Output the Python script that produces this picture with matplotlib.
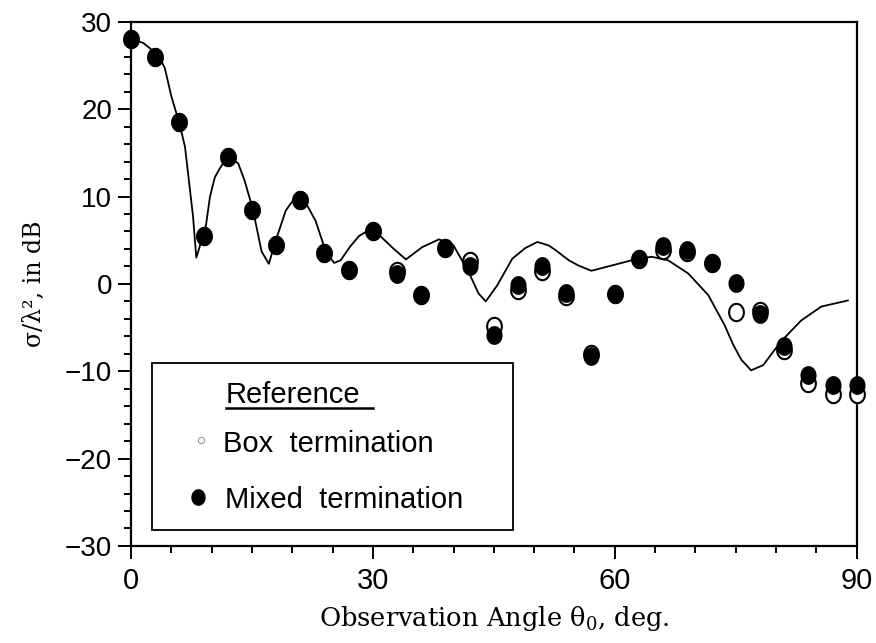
"""Backscatter vs. observation angle: computed curve and two measured terminations."""
import matplotlib
matplotlib.use("Agg")
import matplotlib.pyplot as plt
import numpy as np
from matplotlib.patches import Rectangle
from matplotlib.path import Path
from matplotlib.ticker import MultipleLocator

plt.rcParams["mathtext.fontset"] = "dejavuserif"

# measured angles (deg)
angles = [0, 3, 6, 9, 12, 15, 18, 21, 24, 27, 30, 33, 36, 39, 42, 45,
          48, 51, 54, 57, 60, 63, 66, 69, 72, 75, 78, 81, 84, 87, 90]

# sigma/lambda^2 in dB
mixed_db = [28.0, 26.0, 18.5, 5.5, 14.5, 8.5, 4.4, 9.6, 3.5, 1.6, 6.1, 1.1,
            -1.3, 4.1, 2.0, -5.8, -0.1, 2.0, -1.0, -8.3, -1.2, 2.9, 4.3,
            3.9, 2.4, 0.1, -3.5, -7.1, -10.4, -11.6, -11.6]
box_db = [28.0, 26.0, 18.5, 5.5, 14.5, 8.5, 4.4, 9.6, 3.5, 1.6, 6.1, 1.5,
          -1.3, 4.1, 2.6, -4.8, -0.7, 1.5, -1.4, -8.0, -1.2, 2.9, 3.9,
          3.6, 2.4, -3.2, -3.1, -7.6, -11.3, -12.6, -12.6]

# reference (computed) curve
ref_angle = [0.0, 1.5, 3.4, 4.2, 5.0, 6.0, 6.7, 7.7, 8.1, 8.5, 9.3, 9.8,
             10.4, 11.0, 12.0, 13.3, 14.1, 15.1, 16.2, 17.1, 18.0, 19.2,
             20.2, 21.2, 22.9, 24.2, 25.2, 26.0, 27.2, 28.3, 29.6, 31.0,
             32.6, 34.1, 36.1, 38.2, 40.0, 41.9, 43.1, 44.0, 45.4, 47.3,
             48.9, 50.4, 51.8, 52.6, 54.3, 55.5, 57.1, 59.6, 62.9, 64.6,
             66.6, 69.1, 70.3, 71.6, 73.6, 74.7, 75.7, 76.9, 78.4, 80.6,
             83.1, 85.6, 88.9]
ref_db = [28.0, 27.6, 26.2, 24.7, 21.5, 18.4, 15.7, 7.7, 3.0, 4.2, 6.7, 10.0,
          12.2, 13.2, 14.6, 13.8, 11.8, 8.6, 3.7, 2.3, 5.1, 8.4,
          9.7, 10.1, 7.2, 3.6, 2.4, 2.7, 4.3, 5.5, 6.2, 5.4,
          4.0, 2.8, 4.2, 5.1, 4.4, 1.3, -1.1, -2.0, -0.2, 2.9,
          4.1, 4.8, 4.4, 3.9, 2.7, 2.1, 1.5, 2.1, 2.9, 3.1,
          2.7, 1.2, 0.0, -1.3, -4.7, -7.0, -8.7, -9.9, -9.3, -6.6,
          -4.2, -2.6, -1.9]

x_major = [0, 30, 60, 90]
y_major = [-30, -20, -10, 0, 10, 20, 30]

# slightly tall dot, as on the original plotter output
t = np.linspace(0, 2 * np.pi, 60)
dot = Path(np.column_stack([np.cos(t), 1.18 * np.sin(t)]), closed=True)

fig = plt.figure(figsize=(8.76, 6.43), dpi=100)
ax = fig.add_axes([0.1495, 0.151, 0.8285, 0.815])

ax.plot(ref_angle, ref_db, color="black", lw=1.3, zorder=2)
ax.plot(angles, box_db, ls="none", marker=dot, ms=12.5, mfc="white",
        mec="black", mew=1.5, zorder=3, clip_on=False)
ax.plot(angles, mixed_db, ls="none", marker=dot, ms=12.5, mfc="black",
        mec="black", mew=1.0, zorder=4, clip_on=False)

ax.set_xlim(0, 90)
ax.set_ylim(-30, 30)
ax.set_xticks(x_major, labels=[str(v) for v in x_major],
              family=["Liberation Sans Narrow", "Liberation Sans"], fontsize=21)
ax.set_yticks(y_major, labels=[str(v).replace("-", "\u2212") for v in y_major],
              family=["Liberation Sans", "DejaVu Sans"], fontsize=20)
ax.xaxis.set_minor_locator(MultipleLocator(5))
ax.yaxis.set_minor_locator(MultipleLocator(2))
ax.tick_params(which="major", direction="out", length=9.5, width=1.4)
ax.tick_params(which="minor", direction="out", length=5, width=1.4)
ax.tick_params(axis="x", pad=6)
ax.tick_params(axis="y", pad=4)
for sp in ax.spines.values():
    sp.set_linewidth(1.6)

ax.set_xlabel("Observation Angle \u03b8$_0$, deg.", family="DejaVu Serif",
              fontsize=18.5, labelpad=6)
ax.set_ylabel("\u03c3/\u03bb\u00b2, in dB", family="DejaVu Serif",
              fontsize=17, labelpad=14)

# legend box drawn by hand
tr = ax.transAxes
ax.add_patch(Rectangle((0.0289, 0.0305), 0.497, 0.3185, transform=tr,
                       fill=False, lw=1.3, ec="black", zorder=5))
leg_font = dict(family="Liberation Sans", fontsize=21, transform=tr,
                va="baseline", ha="left", zorder=6)
ax.text(0.131, 0.273, "Reference", **leg_font)
ax.plot([0.131, 0.333], [0.2635, 0.2635], color="black", lw=1.8,
        transform=tr, zorder=6)
ax.text(0.1267, 0.180, "Box  termination", **leg_font)
ax.text(0.1295, 0.0725, "Mixed  termination", **leg_font)
ax.plot([0.0964], [0.2016], ls="none", marker="o", ms=4.5, mfc="white",
        mec="#999999", mew=0.8, transform=tr, zorder=6)
ax.plot([0.0923], [0.094], ls="none", marker=dot, ms=11, mfc="black",
        mec="black", transform=tr, zorder=6)

fig.savefig("out.png", dpi=100)
